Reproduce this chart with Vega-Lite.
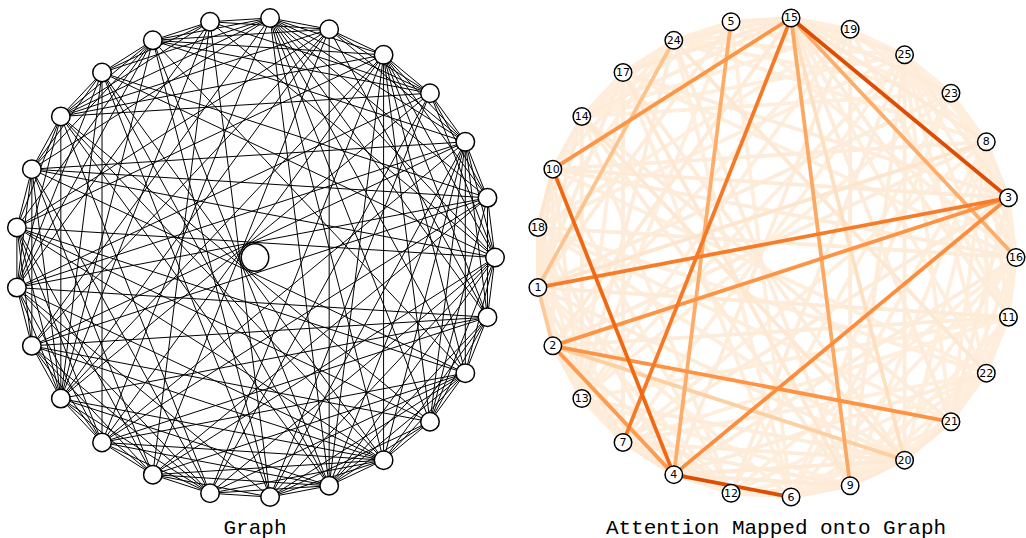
{
  "$schema": "https://vega.github.io/schema/vega-lite/v6.json",
  "padding": {"left": 4, "top": 5.5, "right": 0, "bottom": 0},
  "bounds": "flush",
  "background": "white",
  "config": {"view": {"stroke": null}, "concat": {"spacing": 25}},
  "datasets": {
    "nodes": [
      {"id": 16, "x": 1, "y": 0}, {"id": 3, "x": 0.9686, "y": 0.2487}, {"id": 8, "x": 0.8763, "y": 0.4818},
      {"id": 23, "x": 0.729, "y": 0.6845}, {"id": 25, "x": 0.5358, "y": 0.8443}, {"id": 19, "x": 0.309, "y": 0.9511},
      {"id": 15, "x": 0.0628, "y": 0.998}, {"id": 5, "x": -0.1874, "y": 0.9823}, {"id": 24, "x": -0.4258, "y": 0.9048},
      {"id": 17, "x": -0.6374, "y": 0.7705}, {"id": 14, "x": -0.809, "y": 0.5878}, {"id": 10, "x": -0.9298, "y": 0.3681},
      {"id": 18, "x": -0.9921, "y": 0.1253}, {"id": 1, "x": -0.9921, "y": -0.1253}, {"id": 2, "x": -0.9298, "y": -0.3681},
      {"id": 13, "x": -0.809, "y": -0.5878}, {"id": 7, "x": -0.6374, "y": -0.7705}, {"id": 4, "x": -0.4258, "y": -0.9048},
      {"id": 12, "x": -0.1874, "y": -0.9823}, {"id": 6, "x": 0.0628, "y": -0.998}, {"id": 9, "x": 0.309, "y": -0.9511},
      {"id": 20, "x": 0.5358, "y": -0.8443}, {"id": 21, "x": 0.729, "y": -0.6845}, {"id": 22, "x": 0.8763, "y": -0.4818},
      {"id": 11, "x": 0.9686, "y": -0.2487}
    ],
    "hub": [{"x": 0, "y": 0}],
    "edges": [
      {"s":16,"t":3,"w":0.1},{"s":3,"t":8,"w":0.12},{"s":8,"t":23,"w":0.1},{"s":23,"t":25,"w":0.08},{"s":25,"t":19,"w":0.08},
      {"s":19,"t":15,"w":0.1},{"s":15,"t":5,"w":0.12},{"s":5,"t":24,"w":0.1},{"s":24,"t":17,"w":0.1},{"s":17,"t":14,"w":0.1},
      {"s":14,"t":10,"w":0.12},{"s":10,"t":18,"w":0.2},{"s":18,"t":1,"w":0.14},{"s":1,"t":2,"w":0.29},{"s":2,"t":13,"w":0.14},
      {"s":13,"t":7,"w":0.1},{"s":7,"t":4,"w":0.14},{"s":4,"t":12,"w":0.1},{"s":12,"t":6,"w":0.1},{"s":6,"t":9,"w":0.12},
      {"s":9,"t":20,"w":0.14},{"s":20,"t":21,"w":0.14},{"s":21,"t":22,"w":0.1},{"s":22,"t":11,"w":0.1},{"s":11,"t":16,"w":0.1},
      {"s":16,"t":8,"w":0.1},{"s":3,"t":23,"w":0.1},{"s":8,"t":25,"w":0.1},{"s":23,"t":19,"w":0.08},{"s":25,"t":15,"w":0.12},
      {"s":19,"t":5,"w":0.08},{"s":15,"t":24,"w":0.12},{"s":5,"t":17,"w":0.1},{"s":24,"t":14,"w":0.1},{"s":17,"t":10,"w":0.1},
      {"s":14,"t":18,"w":0.1},{"s":10,"t":1,"w":0.15},{"s":18,"t":2,"w":0.12},{"s":1,"t":13,"w":0.1},{"s":2,"t":7,"w":0.12},
      {"s":13,"t":4,"w":0.12},{"s":7,"t":12,"w":0.1},{"s":4,"t":6,"w":0.73},{"s":12,"t":9,"w":0.1},{"s":6,"t":20,"w":0.12},
      {"s":9,"t":21,"w":0.1},{"s":20,"t":22,"w":0.1},{"s":21,"t":11,"w":0.1},{"s":22,"t":16,"w":0.1},{"s":11,"t":3,"w":0.1},
      {"s":16,"t":23,"w":0.1},{"s":3,"t":25,"w":0.12},{"s":8,"t":19,"w":0.1},{"s":23,"t":15,"w":0.12},{"s":19,"t":24,"w":0.1},
      {"s":15,"t":17,"w":0.14},{"s":5,"t":14,"w":0.1},{"s":24,"t":10,"w":0.1},{"s":14,"t":1,"w":0.12},{"s":10,"t":2,"w":0.12},
      {"s":18,"t":13,"w":0.1},{"s":1,"t":7,"w":0.12},{"s":2,"t":4,"w":0.45},{"s":13,"t":12,"w":0.1},{"s":4,"t":9,"w":0.14},
      {"s":12,"t":20,"w":0.1},{"s":6,"t":21,"w":0.1},{"s":9,"t":22,"w":0.1},{"s":20,"t":11,"w":0.1},{"s":21,"t":16,"w":0.1},
      {"s":11,"t":8,"w":0.1},
      {"s":16,"t":25,"w":0.1},{"s":8,"t":15,"w":0.14},{"s":23,"t":5,"w":0.1},{"s":25,"t":24,"w":0.1},{"s":15,"t":14,"w":0.12},
      {"s":24,"t":18,"w":0.1},{"s":17,"t":1,"w":0.12},{"s":10,"t":13,"w":0.12},{"s":18,"t":7,"w":0.1},{"s":2,"t":12,"w":0.12},
      {"s":7,"t":9,"w":0.12},{"s":4,"t":20,"w":0.15},{"s":6,"t":22,"w":0.1},{"s":9,"t":11,"w":0.1},{"s":21,"t":3,"w":0.12},
      {"s":22,"t":8,"w":0.1},
      {"s":3,"t":15,"w":0.73},{"s":23,"t":24,"w":0.1},{"s":19,"t":14,"w":0.1},{"s":15,"t":10,"w":0.47},{"s":24,"t":1,"w":0.31},
      {"s":14,"t":13,"w":0.12},{"s":18,"t":4,"w":0.12},{"s":1,"t":12,"w":0.1},{"s":13,"t":9,"w":0.1},{"s":7,"t":20,"w":0.12},
      {"s":12,"t":22,"w":0.1},{"s":9,"t":16,"w":0.1},{"s":21,"t":8,"w":0.1},{"s":11,"t":25,"w":0.1},
      {"s":16,"t":15,"w":0.38},{"s":8,"t":24,"w":0.1},{"s":25,"t":14,"w":0.1},{"s":5,"t":1,"w":0.12},{"s":17,"t":13,"w":0.1},
      {"s":10,"t":4,"w":0.63},{"s":1,"t":6,"w":0.1},{"s":13,"t":20,"w":0.12},{"s":4,"t":22,"w":0.12},{"s":6,"t":16,"w":0.1},
      {"s":20,"t":8,"w":0.1},{"s":22,"t":25,"w":0.1},{"s":11,"t":19,"w":0.1},
      {"s":16,"t":5,"w":0.1},{"s":23,"t":14,"w":0.1},{"s":19,"t":18,"w":0.1},{"s":24,"t":13,"w":0.12},{"s":17,"t":7,"w":0.12},
      {"s":10,"t":12,"w":0.1},{"s":2,"t":20,"w":0.27},{"s":7,"t":22,"w":0.1},{"s":12,"t":16,"w":0.1},{"s":9,"t":8,"w":0.1},
      {"s":21,"t":25,"w":0.1},{"s":11,"t":15,"w":0.12},
      {"s":3,"t":17,"w":0.12},{"s":25,"t":18,"w":0.1},{"s":15,"t":2,"w":0.15},{"s":5,"t":13,"w":0.1},{"s":14,"t":12,"w":0.1},
      {"s":1,"t":20,"w":0.12},{"s":2,"t":21,"w":0.48},{"s":7,"t":11,"w":0.1},{"s":4,"t":16,"w":0.12},{"s":6,"t":8,"w":0.1},
      {"s":20,"t":25,"w":0.12},{"s":22,"t":15,"w":0.1},
      {"s":16,"t":17,"w":0.1},{"s":8,"t":10,"w":0.12},{"s":19,"t":2,"w":0.1},{"s":18,"t":20,"w":0.1},{"s":13,"t":11,"w":0.1},
      {"s":4,"t":3,"w":0.5},{"s":6,"t":23,"w":0.1},{"s":9,"t":25,"w":0.12},{"s":21,"t":15,"w":0.12},
      {"s":3,"t":10,"w":0.14},{"s":23,"t":1,"w":0.12},{"s":19,"t":13,"w":0.1},{"s":15,"t":7,"w":0.57},{"s":5,"t":4,"w":0.38},
      {"s":14,"t":9,"w":0.12},{"s":18,"t":21,"w":0.1},{"s":2,"t":11,"w":0.12},{"s":7,"t":3,"w":0.12},{"s":12,"t":23,"w":0.1},
      {"s":15,"t":20,"w":0.22},{"s":19,"t":9,"w":0.12},{"s":17,"t":6,"w":0.1},{"s":24,"t":22,"w":0.17},
      {"s":16,"t":10,"w":0.12},{"s":8,"t":1,"w":0.2},{"s":25,"t":13,"w":0.1},{"s":24,"t":6,"w":0.1},{"s":14,"t":20,"w":0.17},
      {"s":18,"t":22,"w":0.1},{"s":1,"t":11,"w":0.14},{"s":15,"t":9,"w":0.4},{"s":7,"t":8,"w":0.1},{"s":12,"t":25,"w":0.12},
      {"s":17,"t":9,"w":0.17},
      {"s":3,"t":1,"w":0.56},{"s":3,"t":2,"w":0.48},{"s":23,"t":13,"w":0.1},{"s":19,"t":4,"w":0.12},{"s":5,"t":6,"w":0.1},
      {"s":17,"t":20,"w":0.12},{"s":10,"t":22,"w":0.1},{"s":16,"t":18,"w":0.12},{"s":8,"t":2,"w":0.12},{"s":25,"t":7,"w":0.1},
      {"s":24,"t":9,"w":0.12},{"s":14,"t":21,"w":0.12}
    ]
  },
  "hconcat": [
    {
      "width": 496,
      "height": 500,
      "title": {"text": "Graph", "orient": "bottom", "anchor": "middle", "font": "Liberation Mono", "fontSize": 21, "fontWeight": "normal", "color": "#000000", "baseline": "alphabetic", "offset": 25},
      "layer": [
        {
          "data": {"name": "edges"},
          "transform": [
            {"lookup": "s", "from": {"data": {"name": "nodes"}, "key": "id", "fields": ["x", "y"]}, "as": ["x1", "y1"]},
            {"lookup": "t", "from": {"data": {"name": "nodes"}, "key": "id", "fields": ["x", "y"]}, "as": ["x2", "y2"]}
          ],
          "mark": {"type": "rule", "color": "#000000", "strokeWidth": 1},
          "encoding": {
            "x": {"field": "x1", "type": "quantitative", "scale": {"domain": [-1.033333, 1.033333], "nice": false, "zero": false}, "axis": null},
            "y": {"field": "y1", "type": "quantitative", "scale": {"domain": [-1.041667, 1.041667], "nice": false, "zero": false}, "axis": null},
            "x2": {"field": "x2"},
            "y2": {"field": "y2"}
          }
        },
        {
          "data": {"name": "nodes"},
          "mark": {"type": "point", "shape": "circle", "filled": true, "fill": "#ffffff", "stroke": "#000000", "strokeWidth": 1.5, "size": 342, "opacity": 1},
          "encoding": {
            "x": {"field": "x", "type": "quantitative", "axis": null},
            "y": {"field": "y", "type": "quantitative", "axis": null}
          }
        },
        {
          "data": {"name": "hub"},
          "mark": {"type": "point", "shape": "circle", "filled": true, "fill": "#ffffff", "stroke": "#000000", "strokeWidth": 1.5, "size": 756, "opacity": 1},
          "encoding": {
            "x": {"field": "x", "type": "quantitative", "axis": null},
            "y": {"field": "y", "type": "quantitative", "axis": null}
          }
        }
      ]
    },
    {
      "width": 496,
      "height": 500,
      "title": {"text": "Attention Mapped onto Graph", "orient": "bottom", "anchor": "middle", "font": "Liberation Mono", "fontSize": 21, "fontWeight": "normal", "color": "#000000", "baseline": "alphabetic", "offset": 25},
      "layer": [
        {
          "data": {"name": "edges"},
          "transform": [
            {"lookup": "s", "from": {"data": {"name": "nodes"}, "key": "id", "fields": ["x", "y"]}, "as": ["x1", "y1"]},
            {"lookup": "t", "from": {"data": {"name": "nodes"}, "key": "id", "fields": ["x", "y"]}, "as": ["x2", "y2"]}
          ],
          "mark": {"type": "rule", "strokeWidth": 3.8},
          "encoding": {
            "x": {"field": "x1", "type": "quantitative", "scale": {"domain": [-1.033333, 1.033333], "nice": false, "zero": false}, "axis": null},
            "y": {"field": "y1", "type": "quantitative", "scale": {"domain": [-1.041667, 1.041667], "nice": false, "zero": false}, "axis": null},
            "x2": {"field": "x2"},
            "y2": {"field": "y2"},
            "color": {"field": "w", "type": "quantitative", "scale": {"domain": [0, 0.2, 0.27, 0.375, 0.5, 0.625, 0.75, 0.875, 1], "range": ["#fff5eb", "#fee6ce", "#fdd0a2", "#fdae6b", "#fd8d3c", "#f16913", "#d94801", "#a63603", "#7f2704"]}, "legend": null},
            "order": {"field": "w", "type": "quantitative"}
          }
        },
        {
          "data": {"name": "nodes"},
          "mark": {"type": "point", "shape": "circle", "filled": true, "fill": "#ffffff", "stroke": "#000000", "strokeWidth": 1.5, "size": 306, "opacity": 1},
          "encoding": {
            "x": {"field": "x", "type": "quantitative", "axis": null},
            "y": {"field": "y", "type": "quantitative", "axis": null}
          }
        },
        {
          "data": {"name": "nodes"},
          "mark": {"type": "text", "font": "DejaVu Sans", "fontSize": 11, "color": "#000000", "align": "center", "baseline": "middle", "dy": 0.5},
          "encoding": {
            "x": {"field": "x", "type": "quantitative", "axis": null},
            "y": {"field": "y", "type": "quantitative", "axis": null},
            "text": {"field": "id", "type": "nominal"}
          }
        }
      ]
    }
  ]
}
